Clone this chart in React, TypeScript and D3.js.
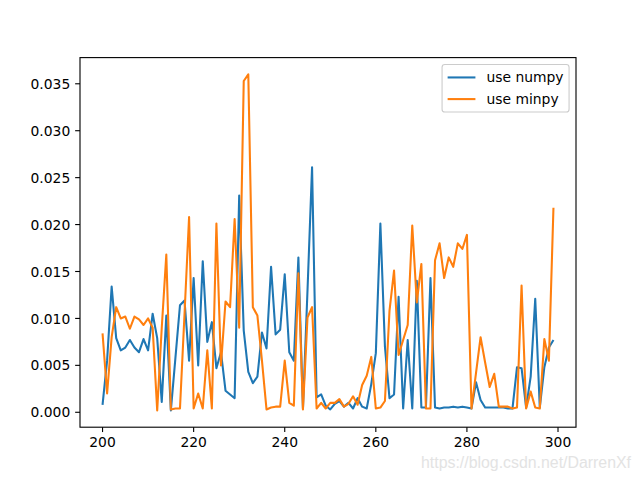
import React from "react";
import * as d3 from "d3";

const xs: number[] = d3.range(200, 300);

const numpy: number[] = [
  0.0008, 0.0055, 0.0134, 0.0079, 0.0066, 0.0069, 0.0077, 0.0069, 0.0064, 0.0078,
  0.0066, 0.0105, 0.0079, 0.0011, 0.0103, 0.0002, 0.0058, 0.0114, 0.0119, 0.0055,
  0.0143, 0.0050, 0.0161, 0.0075, 0.0096, 0.0047, 0.0064, 0.0023, 0.0019, 0.0015,
  0.0231, 0.0087, 0.0043, 0.0031, 0.0038, 0.0085, 0.0068, 0.0155, 0.0083, 0.0088,
  0.0147, 0.0064, 0.0055, 0.0165, 0.0004, 0.0130, 0.0261, 0.0016, 0.0019, 0.0007,
  0.0003, 0.0009, 0.0012, 0.0006, 0.0010, 0.0004, 0.0015, 0.0006, 0.0004, 0.0030,
  0.0063, 0.0201, 0.0070, 0.0015, 0.0019, 0.0123, 0.0004, 0.0077, 0.0004, 0.0140,
  0.0005, 0.0005, 0.0143, 0.0005, 0.0004, 0.0005, 0.0005, 0.0006, 0.0005, 0.0006,
  0.0005, 0.0004, 0.0032, 0.0013, 0.0005, 0.0005, 0.0005, 0.0005, 0.0005, 0.0004,
  0.0004, 0.0048, 0.0047, 0.0005, 0.0038, 0.0121, 0.0005, 0.0048, 0.0069, 0.0077,
];

const minpy: number[] = [
  0.0084, 0.0020, 0.0080, 0.0112, 0.0100, 0.0102, 0.0089, 0.0102, 0.0099, 0.0093,
  0.0100, 0.0090, 0.0002, 0.0090, 0.0168, 0.0003, 0.0004, 0.0004, 0.0105, 0.0208,
  0.0004, 0.0020, 0.0004, 0.0066, 0.0004, 0.0201, 0.0050, 0.0118, 0.0112, 0.0206,
  0.0090, 0.0353, 0.0360, 0.0112, 0.0103, 0.0055, 0.0003, 0.0005, 0.0006, 0.0006,
  0.0055, 0.0010, 0.0007, 0.0148, 0.0003, 0.0101, 0.0112, 0.0004, 0.0010, 0.0004,
  0.0010, 0.0010, 0.0014, 0.0006, 0.0009, 0.0017, 0.0008, 0.0029, 0.0039, 0.0059,
  0.0004, 0.0005, 0.0012, 0.0108, 0.0151, 0.0061, 0.0077, 0.0093, 0.0199, 0.0117,
  0.0158, 0.0004, 0.0004, 0.0162, 0.0180, 0.0143, 0.0165, 0.0155, 0.0180, 0.0174,
  0.0189, 0.0004, 0.0042, 0.0080, 0.0053, 0.0027, 0.0041, 0.0006, 0.0006, 0.0006,
  0.0004, 0.0005, 0.0135, 0.0004, 0.0022, 0.0005, 0.0004, 0.0078, 0.0055, 0.0218,
];

const xTicks: number[] = [200, 220, 240, 260, 280, 300];
const yTicks: number[] = [0, 0.005, 0.01, 0.015, 0.02, 0.025, 0.03, 0.035];
const seriesNames: string[] = ["use numpy", "use minpy"];
const seriesColors: string[] = ["#1f77b4", "#ff7f0e"];

const W = 640;
const H = 480;
const L = 80;
const R = 576;
const T = 57.6;
const B = 427.2;
const FS = 13.89;
const FONT = "DejaVu Sans, sans-serif";

export default function App() {
  const xMin = d3.min(xs)!;
  const xMax = d3.max(xs)!;
  const xm = (xMax - xMin) * 0.05;
  const x = d3.scaleLinear().domain([xMin - xm, xMax + xm]).range([L, R]);
  const all = numpy.concat(minpy);
  const yMin = d3.min(all)!;
  const yMax = d3.max(all)!;
  const ym = (yMax - yMin) * 0.05;
  const y = d3.scaleLinear().domain([yMin - ym, yMax + ym]).range([B, T]);

  const line = d3
    .line<number>()
    .x((_, i) => x(xs[i]))
    .y((d) => y(d));

  const series = [numpy, minpy];
  const tickLen = 4.86;
  const pad = 4.86;

  // legend geometry
  const lgRight = R - 6.94;
  const lgTop = T + 6.94;
  const lgW = 127;
  const lgH = 47.5;
  const lgLeft = lgRight - lgW;

  return (
    <svg width={W} height={H} style={{ display: "block", position: "absolute", left: 0, top: 0 }}>
      <rect x={0} y={0} width={W} height={H} fill="#ffffff" />
      <defs>
        <clipPath id="plotclip">
          <rect x={L} y={T} width={R - L} height={B - T} />
        </clipPath>
      </defs>
      <g clipPath="url(#plotclip)">
        {series.map((s, k) => (
          <path
            key={k}
            d={line(s) || ""}
            fill="none"
            stroke={seriesColors[k]}
            strokeWidth={2.08}
            strokeLinejoin="round"
            strokeLinecap="butt"
          />
        ))}
      </g>
      {/* spines */}
      <rect x={L} y={T} width={R - L} height={B - T} fill="none" stroke="#000" strokeWidth={1.11} />
      {/* x ticks */}
      {xTicks.map((t) => (
        <g key={"x" + t}>
          <line x1={x(t)} x2={x(t)} y1={B} y2={B + tickLen} stroke="#000" strokeWidth={1.11} />
          <text
            x={x(t)}
            y={B + tickLen + pad + 10.4}
            textAnchor="middle"
            fontFamily={FONT}
            fontSize={FS}
            fill="#000"
          >
            {t}
          </text>
        </g>
      ))}
      {/* y ticks */}
      {yTicks.map((t) => (
        <g key={"y" + t}>
          <line x1={L - tickLen} x2={L} y1={y(t)} y2={y(t)} stroke="#000" strokeWidth={1.11} />
          <text
            x={L - tickLen - pad}
            y={y(t) + 5.1}
            textAnchor="end"
            fontFamily={FONT}
            fontSize={FS}
            fill="#000"
          >
            {t.toFixed(3)}
          </text>
        </g>
      ))}
      {/* legend */}
      <rect
        x={lgLeft}
        y={lgTop}
        width={lgW}
        height={lgH}
        rx={2.8}
        ry={2.8}
        fill="#ffffff"
        fillOpacity={0.8}
        stroke="#cccccc"
        strokeWidth={1.11}
      />
      {seriesNames.map((name, k) => {
        const cy = lgTop + 5.56 + 7.35 + k * (14.7 + 6.94);
        return (
          <g key={name}>
            <line
              x1={lgLeft + 5.56}
              x2={lgLeft + 5.56 + 27.8}
              y1={cy}
              y2={cy}
              stroke={seriesColors[k]}
              strokeWidth={2.08}
            />
            <text
              x={lgLeft + 44.4}
              y={cy + 5.0}
              fontFamily={FONT}
              fontSize={FS}
              fill="#000"
            >
              {name}
            </text>
          </g>
        );
      })}
      {/* watermark */}
      <text
        x={421}
        y={468}
        fontFamily="Liberation Sans, Arial, sans-serif"
        fontSize={16}
        fill="#e3e3e3"
        textLength={210}
        lengthAdjust="spacingAndGlyphs"
      >
        https://blog.csdn.net/DarrenXf
      </text>
    </svg>
  );
}
